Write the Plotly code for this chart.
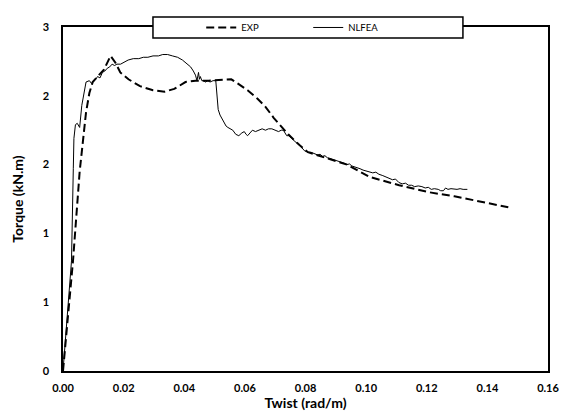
import plotly.graph_objects as go

exp_x = [0, 0.0033, 0.0055, 0.0066, 0.0076, 0.0087, 0.0098, 0.0114, 0.0135, 0.0157, 0.0173,
         0.0189, 0.0216, 0.0254, 0.0297, 0.0335, 0.0367, 0.0404, 0.0437, 0.0480, 0.0544,
         0.0555, 0.0576, 0.0609, 0.0641, 0.0668, 0.0695, 0.0722, 0.0743, 0.0781, 0.0808,
         0.0937, 0.1012, 0.1109, 0.1205, 0.1291, 0.1377, 0.1469]
exp_y = [0, 0.80, 1.45, 1.69, 1.88, 2.02, 2.10, 2.14, 2.19, 2.29, 2.24,
         2.17, 2.12, 2.07, 2.04, 2.03, 2.05, 2.10, 2.11, 2.11, 2.12,
         2.12, 2.09, 2.04, 1.98, 1.92, 1.84, 1.77, 1.72, 1.64, 1.59,
         1.50, 1.41, 1.35, 1.30, 1.27, 1.23, 1.19]

nl_x = [0, 0.0028, 0.0034, 0.0036, 0.0041, 0.0047, 0.0055, 0.0062, 0.0076, 0.0087, 0.0094,
        0.0101, 0.0108, 0.0114, 0.0122, 0.0130, 0.0138, 0.0146, 0.0154, 0.0162, 0.0170,
        0.0178, 0.0190, 0.0200, 0.0215, 0.0232, 0.0250, 0.0265, 0.0280, 0.0297, 0.0315,
        0.0329, 0.0345, 0.0361, 0.0378, 0.0394, 0.0410, 0.0421, 0.0430, 0.0437, 0.0442,
        0.0447, 0.0450, 0.0453, 0.0458, 0.0464, 0.0470, 0.0478, 0.0485, 0.0495, 0.0504,
        0.0508, 0.0512, 0.0518, 0.0523, 0.0528, 0.0533, 0.0538, 0.0544, 0.0550, 0.0560,
        0.0570, 0.0580, 0.0590, 0.0598, 0.0604, 0.0609, 0.0617, 0.0625, 0.0635, 0.0646,
        0.0657, 0.0668, 0.0678, 0.0689, 0.0700, 0.0711, 0.0720, 0.0727, 0.0738, 0.0745,
        0.0754, 0.0765, 0.0775, 0.0785, 0.0797, 0.0808, 0.0818, 0.0830, 0.0840, 0.0848,
        0.0856, 0.0864, 0.0872, 0.0880, 0.0888, 0.0896, 0.0904, 0.0912, 0.0920, 0.0928,
        0.0937, 0.0945, 0.0953, 0.0961, 0.0969, 0.0980, 0.0990, 0.1000, 0.1010, 0.1022,
        0.1032, 0.1042, 0.1055, 0.1065, 0.1075, 0.1087, 0.1097, 0.1108, 0.1119, 0.1130,
        0.1140, 0.1150, 0.1160, 0.1172, 0.1184, 0.1195, 0.1205, 0.1215, 0.1225, 0.1238,
        0.1246, 0.1255, 0.1262, 0.1270, 0.1280, 0.1290, 0.1300, 0.1310, 0.1320, 0.1334]
nl_y = [0, 0.80, 1.47, 1.69, 1.79, 1.80, 1.77, 1.93, 2.10, 2.11, 2.09,
        2.11, 2.12, 2.14, 2.13, 2.17, 2.18, 2.20, 2.21, 2.23, 2.22,
        2.23, 2.23, 2.24, 2.26, 2.27, 2.27, 2.28, 2.28, 2.29, 2.29,
        2.30, 2.30, 2.29, 2.28, 2.26, 2.23, 2.21, 2.18, 2.15, 2.11,
        2.17, 2.12, 2.14, 2.11, 2.11, 2.10, 2.11, 2.10, 2.11, 2.11,
        2.00, 1.90, 1.86, 1.84, 1.83, 1.81, 1.78, 1.77, 1.76, 1.75,
        1.72, 1.71, 1.73, 1.74, 1.72, 1.71, 1.73, 1.75, 1.74, 1.75,
        1.76, 1.75, 1.76, 1.76, 1.75, 1.74, 1.75, 1.75, 1.71, 1.71,
        1.69, 1.67, 1.65, 1.63, 1.60, 1.59, 1.59, 1.58, 1.57, 1.575,
        1.56, 1.565, 1.55, 1.545, 1.54, 1.535, 1.53, 1.525, 1.52, 1.51,
        1.50, 1.505, 1.49, 1.485, 1.48, 1.47, 1.46, 1.455, 1.45, 1.44,
        1.445, 1.43, 1.42, 1.41, 1.405, 1.39, 1.395, 1.37, 1.36, 1.365,
        1.35, 1.35, 1.34, 1.345, 1.34, 1.33, 1.335, 1.32, 1.325, 1.32,
        1.31, 1.31, 1.33, 1.32, 1.325, 1.32, 1.32, 1.325, 1.32, 1.32]

y_tickvals = [0, 0.5, 1.0, 1.5, 2.0, 2.5]
y_ticktext = ["0", "1", "1", "2", "2", "3"]
x_tickvals = [0, 0.02, 0.04, 0.06, 0.08, 0.10, 0.12, 0.14, 0.16]
x_ticktext = ["0.00", "0.02", "0.04", "0.06", "0.08", "0.10", "0.12", "0.14", "0.16"]

FONT = "Lato"

fig = go.Figure()
fig.add_trace(go.Scatter(x=exp_x, y=exp_y, mode="lines", name="EXP",
                         line=dict(color="black", width=2, dash="8px,4px")))
fig.add_trace(go.Scatter(x=nl_x, y=nl_y, mode="lines", name="NLFEA",
                         line=dict(color="black", width=1)))

fig.add_shape(type="rect", xref="paper", yref="paper",
              x0=0.1855, x1=0.8246, y0=0.968, y1=1.029,
              line=dict(color="black", width=1.5), fillcolor="white", layer="above")

fig.update_layout(
    width=569, height=417,
    margin=dict(l=63, r=10, t=27, b=42),
    plot_bgcolor="white", paper_bgcolor="white",
    font=dict(family=FONT, color="black"),
    showlegend=True,
    legend=dict(orientation="h", x=0.285, y=0.9986, xanchor="left", yanchor="middle",
                bgcolor="rgba(0,0,0,0)", borderwidth=0,
                font=dict(family=FONT, size=9.5, color="black"),
                entrywidth=62, entrywidthmode="pixels", itemwidth=30),
    xaxis=dict(range=[0, 0.16], tickvals=x_tickvals, ticktext=x_ticktext,
               showgrid=False, zeroline=False, showline=True, linecolor="black",
               linewidth=1.5, mirror=True, ticks="", ticklabelstandoff=6,
               tickfont=dict(family=FONT, size=11, color="black", weight="bold"),
               title=dict(text="Twist (rad/m)", standoff=3,
                          font=dict(family=FONT, size=14, color="black", weight="bold"))),
    yaxis=dict(range=[0, 2.5], tickvals=y_tickvals, ticktext=y_ticktext,
               showgrid=False, zeroline=False, showline=True, linecolor="black",
               linewidth=1.5, mirror=True, ticks="", ticklabelstandoff=10,
               tickfont=dict(family=FONT, size=11, color="black", weight="bold"),
               title=dict(text="Torque (kN.m)", standoff=16,
                          font=dict(family=FONT, size=14, color="black", weight="bold"))),
)

fig.write_html("out.html", config={"displayModeBar": False},
               post_script="document.body.style.margin='0';document.body.style.overflow='hidden';")
